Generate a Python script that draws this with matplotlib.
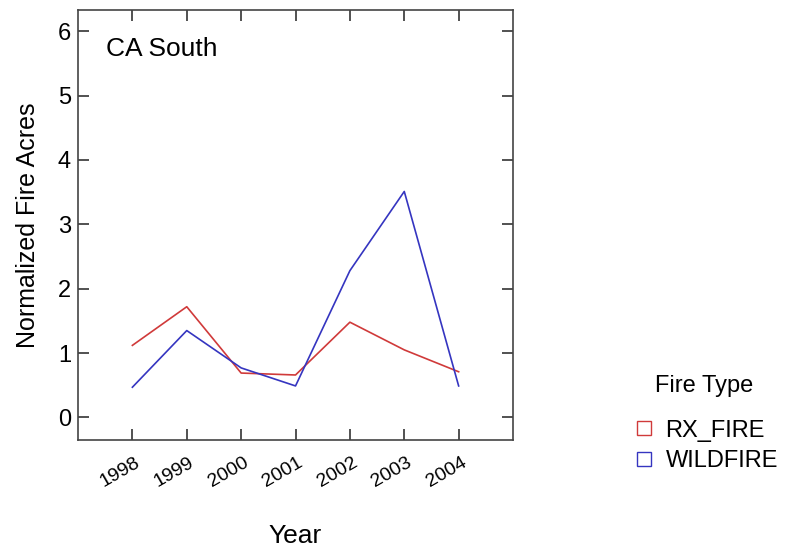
import matplotlib
matplotlib.use("Agg")
import matplotlib.pyplot as plt
import matplotlib.transforms as mtransforms
from matplotlib.lines import Line2D

plt.rcParams['font.family'] = ['Liberation Sans', 'DejaVu Sans']

years = [1998, 1999, 2000, 2001, 2002, 2003, 2004]
rx_fire = [1.12, 1.72, 0.69, 0.66, 1.48, 1.05, 0.71]
wildfire = [0.47, 1.35, 0.77, 0.49, 2.28, 3.51, 0.49]

fig = plt.figure(figsize=(7.96, 5.49), dpi=100)
ax = fig.add_axes([0.098, 0.1985, 0.5465, 0.7835])

red = '#d03a3a'
blue = '#3535c0'
ax.plot(years, rx_fire, color=red, lw=1.2)
ax.plot(years, wildfire, color=blue, lw=1.2)

ax.set_xlim(1997, 2005)
ax.set_ylim(-0.35, 6.33)
ax.set_xticks(years)
ax.set_xticklabels([str(y) for y in years], rotation=30, fontsize=14)
ax.set_yticks(range(0, 7))
ax.tick_params(axis='y', labelsize=17)
ax.tick_params(direction='in', length=8, width=1.2, color='#333333',
               top=True, right=True, pad=5)
ax.tick_params(axis='x', pad=10)
# shift year labels a bit left like the original
shift = mtransforms.ScaledTranslation(-9 / 72, 0, fig.dpi_scale_trans)
for lab in ax.get_xticklabels():
    lab.set_transform(lab.get_transform() + shift)
for s in ax.spines.values():
    s.set_color('#444444')
    s.set_linewidth(1.2)

ax.set_xlabel('Year', fontsize=19, labelpad=24)
ax.set_ylabel('Normalized Fire Acres', fontsize=18, labelpad=13)
ax.text(0.065, 0.91, 'CA South', transform=ax.transAxes, fontsize=19,
        va='center', ha='left')

handles = [
    Line2D([], [], ls='none', marker='s', markersize=10, markerfacecolor='none',
           markeredgecolor=red, label='RX_FIRE'),
    Line2D([], [], ls='none', marker='s', markersize=10, markerfacecolor='none',
           markeredgecolor=blue, label='WILDFIRE'),
]
leg = fig.legend(handles=handles, title='Fire Type', loc='upper left',
                 bbox_to_anchor=(0.765, 0.355), frameon=False, fontsize=17,
                 title_fontsize=17, handletextpad=0.3, labelspacing=0.35,
                 handlelength=1.2)
leg._legend_box.sep = 16

fig.savefig('out.png', dpi=100)
